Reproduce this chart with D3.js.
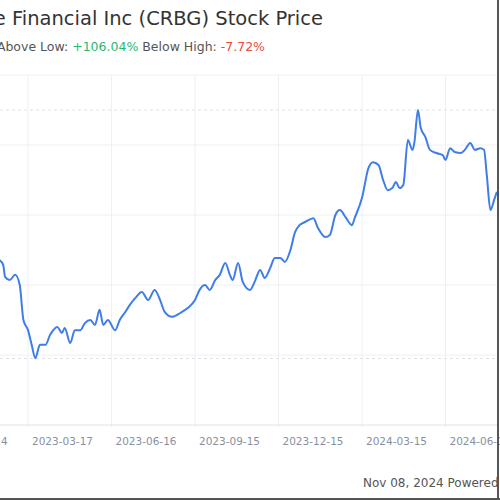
<!DOCTYPE html>
<html><head><meta charset="utf-8">
<script src="https://cdn.jsdelivr.net/npm/d3@7"></script>
<style>body{margin:0;background:#fff}svg{display:block;font-family:"DejaVu Sans",sans-serif}</style>
</head><body><svg id="c" width="500" height="500"></svg>
<script>
const baseDate = "2022-12-16";
const dayOffsets = [-31,-27,-25,-20,-14,-9,-5,0,4,8,13,19,24,32,37,40,46,51,57,62,68,73,78,82,87,95,100,106,111,117,124,131,138,144,149,157,166,174,182,187,193,198,204,209,215,220,223,229,234,242,247,253,258,264,269,275,280,286,291,296,302,311,316,324,329,335,340,346,353,356,364,371,376,382,387,392,397,401,405,409,414,419,421,425,428,433,438,445,452,455,460,465,472,476,482,487,493,497,500,504,508,511];
const prices = [22.71,22.57,22.23,22.14,22.29,22.0,21.0,20.71,20.29,19.91,20.29,20.29,20.57,20.8,20.63,20.77,20.34,20.71,20.71,20.91,21.0,20.86,21.29,20.86,21.0,20.71,21.0,21.23,21.43,21.63,21.8,21.57,21.86,21.57,21.23,21.09,21.2,21.34,21.57,21.86,22.0,21.86,22.14,22.29,22.63,22.29,22.14,22.63,22.09,21.86,22.09,22.43,22.2,22.49,22.77,22.77,22.66,23.0,23.51,23.71,23.8,23.91,23.63,23.37,23.43,24.0,24.14,23.94,23.71,23.91,24.49,25.34,25.51,25.43,25.0,24.71,24.77,24.94,24.77,24.86,26.14,25.86,26.06,27.0,26.49,26.23,25.86,25.77,25.71,25.57,25.91,25.8,25.77,25.86,26.06,25.86,25.91,25.86,25.14,24.14,24.43,24.66];
const gridDates = ["2022-12-16","2023-03-17","2023-06-16","2023-09-15","2023-12-15","2024-03-15","2024-06-14"];
const tickLabels = ["2022-12-14","2023-03-17","2023-06-16","2023-09-15","2023-12-15","2024-03-15","2024-06-14"];
const yTicks = [20,22,24,26,28];
const highLow = [27.0,19.9];

const svg = d3.select("#c");
const parse = d3.utcParse("%Y-%m-%d");
const b = parse(baseDate);
const n = Math.min(dayOffsets.length, prices.length);
const data = d3.range(n).map(i => ({d: d3.utcDay.offset(b, dayOffsets[i]), v: prices[i]}));
const grid = gridDates.map(parse);
const x = d3.scaleUtc().domain([grid[0], grid[6]]).range([28, 529]);
const y = d3.scaleLinear().domain([18, 28]).range([425, 75]);

svg.append("g").selectAll("line").data(yTicks).join("line")
  .attr("x1",0).attr("x2",497).attr("y1",d=>y(d)).attr("y2",d=>y(d))
  .attr("stroke","#eef0f4").attr("stroke-width",1);
svg.append("g").selectAll("line").data(grid).join("line")
  .attr("x1",d=>x(d)).attr("x2",d=>x(d)).attr("y1",75).attr("y2",428)
  .attr("stroke","#eef0f4");
svg.append("line").attr("x1",0).attr("x2",497).attr("y1",y(18)).attr("y2",y(18)).attr("stroke","#dde1e8");
svg.append("g").selectAll("line").data(highLow).join("line")
  .attr("x1",0).attr("x2",497).attr("y1",d=>y(d)).attr("y2",d=>y(d))
  .attr("stroke","#dde1e8").attr("stroke-dasharray","3,3");

svg.append("path").datum(data)
  .attr("d", d3.line().x(d=>x(d.d)).y(d=>y(d.v)).curve(d3.curveMonotoneX))
  .attr("fill","none").attr("stroke","#3f7de8").attr("stroke-width",2);

svg.append("g").selectAll("text").data(tickLabels).join("text")
  .attr("x",d=>x(parse(d))-49).attr("y",445).attr("text-anchor","middle")
  .attr("font-size",10.5).attr("fill","#8a8fa0").text(d=>d);

svg.append("text").attr("x",323).attr("y",25).attr("text-anchor","end")
  .attr("font-size",19.5).attr("fill","#333").text("Corebridge Financial Inc (CRBG) Stock Price");
const sub = svg.append("text").attr("x",265).attr("y",51).attr("text-anchor","end").attr("font-size",12.5);
sub.append("tspan").attr("fill","#555").text("Above Low: ");
sub.append("tspan").attr("fill","#2bb673").text("+106.04%");
sub.append("tspan").attr("fill","#555").text("  Below High: ");
sub.append("tspan").attr("fill","#e74c3c").text("-7.72%");

svg.append("text").attr("x",363).attr("y",487).attr("font-size",12).attr("fill","#555")
  .text("Nov 08, 2024   Powered by GuruFocus");
svg.append("line").attr("x1",498).attr("x2",498).attr("y1",0).attr("y2",500).attr("stroke","#555").attr("stroke-width",2);
svg.append("line").attr("x1",0).attr("x2",500).attr("y1",499).attr("y2",499).attr("stroke","#555").attr("stroke-width",2);
</script></body></html>
